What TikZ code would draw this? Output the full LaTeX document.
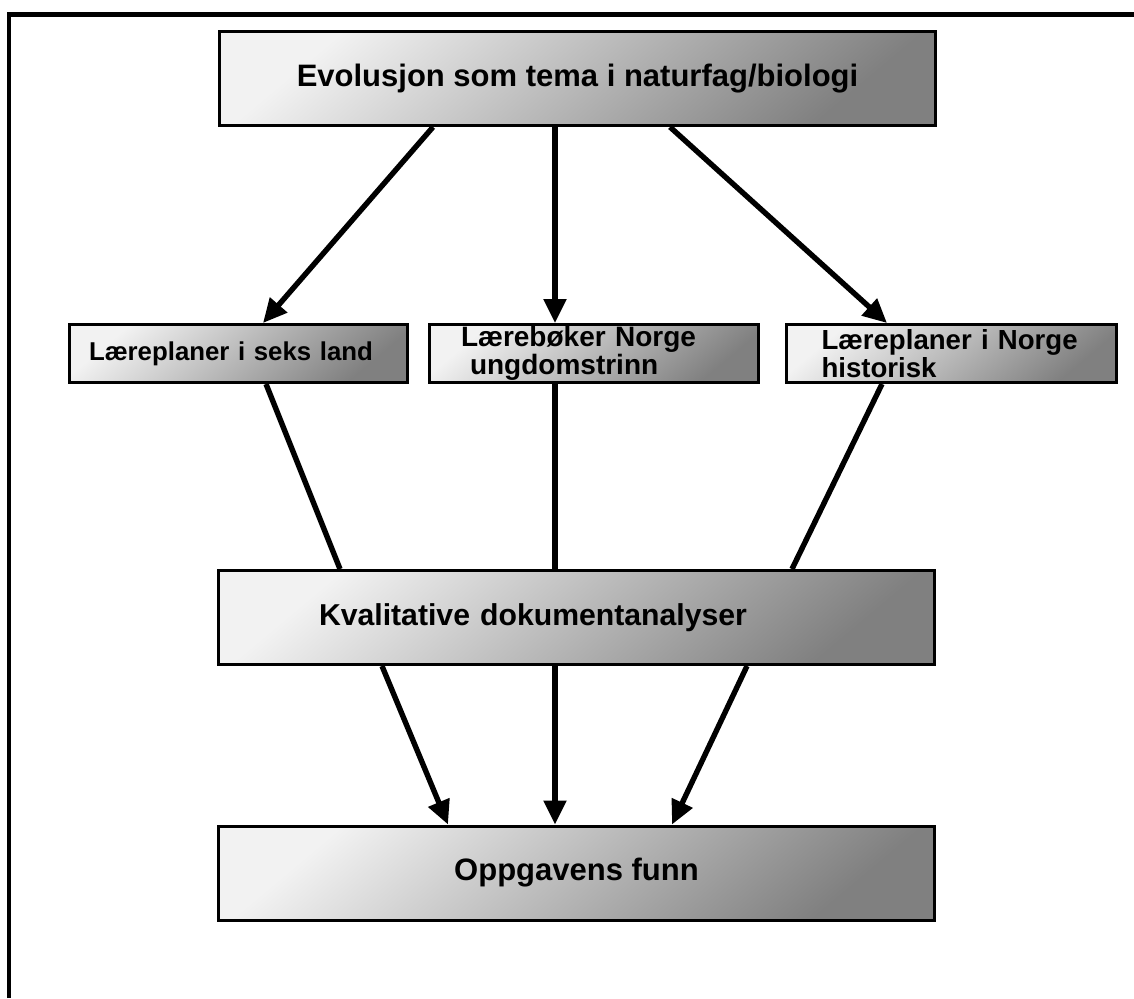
\documentclass[tikz,border=0pt]{standalone}
\usepackage{fontspec}
\setmainfont{Liberation Sans}
\usepackage{tikz}
\usetikzlibrary{arrows.meta,shadows}
\tikzset{
    every node/.style={font=\bfseries},
    box/.style={rectangle,draw=black,line width=1.5pt,inner sep=0pt,
        top color=black!5,bottom color=black!50,shading angle=40,
        general shadow={fill=black!80,shadow xshift=0.6pt,shadow yshift=-0.9pt}},
    bigbox/.style={box,minimum width=358pt,minimum height=47pt,font=\bfseries\fontsize{15.5}{18}\selectfont},
    smallbox/.style={box,minimum height=29pt,align=left,font=\bfseries\fontsize{14}{14}\selectfont},
    arr/.style={line width=2.7pt,-{Triangle[length=12pt,width=11pt]}},
    link/.style={line width=2.7pt},
    frame/.style={line width=2.2pt}
}
\begin{document}
\begin{tikzpicture}[x=0.5pt,y=-0.5pt]
\useasboundingbox (0,0) rectangle (1134,998);
\draw[frame] (8.8,998) |- (1134,14.5);
\node[bigbox] (tema) at (577.5,78.5) {Evolusjon som tema i naturfag/biologi};
\node[smallbox,minimum width=169pt,inner xsep=9.75pt,text width=149.5pt,font=\bfseries\fontsize{12.9}{14}\selectfont] (seks) at (238.5,353.5) {Læreplaner i seks land};
\node[smallbox,minimum width=164.5pt,inner xsep=15.75pt,text width=133pt] (bok) at (594,353.5) {Lærebøker Norge\\\hspace*{4.5pt}ungdomstrinn};
\node[smallbox,minimum width=165pt,inner xsep=17.5pt,text width=130pt,font=\bfseries\fontsize{13.8}{14}\selectfont] (hist) at (951.5,353.5) {Læreplaner i Norge\\historisk};
\node[bigbox,align=left,inner xsep=49.75pt,text width=257.5pt,font=\bfseries\fontsize{15.1}{18}\selectfont] (analyse) at (576.5,617.5) {Kvalitative dokumentanalyser};
\node[bigbox] (funn) at (576.5,873) {Oppgavens funn};
\draw[arr] ([xshift=-72.25pt]tema.south) -- ([xshift=12.25pt]seks.north);
\draw[arr] ([xshift=-11.25pt]tema.south) -- ([xshift=-19.5pt]bok.north);
\draw[arr] ([xshift=46.25pt]tema.south) -- ([xshift=-32.25pt]hist.north);
\draw[link] ([xshift=13.75pt]seks.south) -- ([xshift=-118.25pt]analyse.north);
\draw[link] ([xshift=-19.5pt]bok.south) -- ([xshift=-10.75pt]analyse.north);
\draw[link] ([xshift=-34.75pt]hist.south) -- ([xshift=107.75pt]analyse.north);
\draw[arr] ([xshift=-97.25pt]analyse.south) -- ([xshift=-64.25pt]funn.north);
\draw[arr] ([xshift=-10.75pt]analyse.south) -- ([xshift=-10.75pt]funn.north);
\draw[arr] ([xshift=85.25pt]analyse.south) -- ([xshift=47.75pt]funn.north);
\end{tikzpicture}
\end{document}
